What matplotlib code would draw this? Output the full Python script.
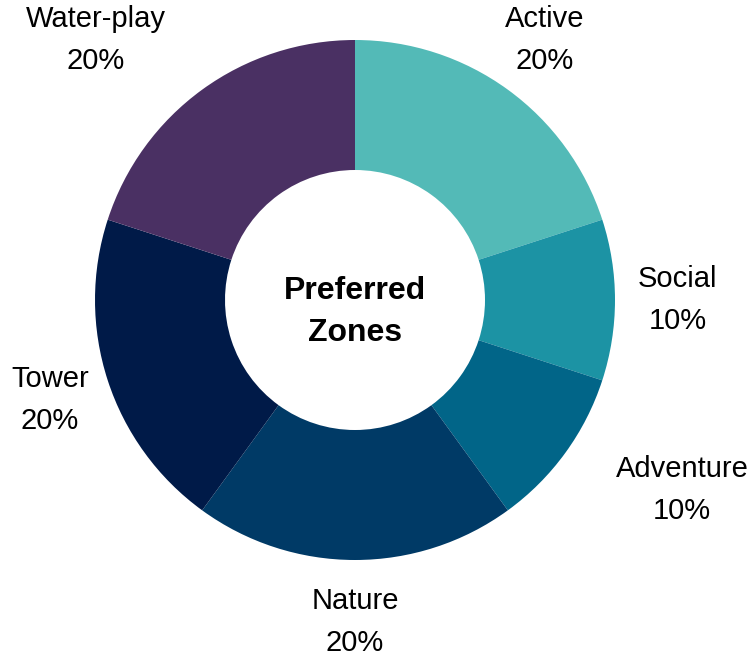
import matplotlib
matplotlib.use("Agg")
import matplotlib.pyplot as plt

categories = ["Active", "Social", "Adventure", "Nature", "Tower", "Water-play"]
values = [20, 10, 10, 20, 20, 20]
colors = ["#53BAB7", "#1C93A4", "#016588", "#003A66", "#001A48", "#4A3063"]
# label anchor positions (data units, pie radius = 1)
label_pos = [(0.731, 1.0), (1.242, 0.0), (1.258, -0.731), (0.0, -1.238),
             (-1.173, -0.385), (-0.996, 1.0)]

plt.rcParams['font.family'] = ['Liberation Sans', 'DejaVu Sans']

W, H = 752, 659
fig = plt.figure(figsize=(W / 100, H / 100), dpi=100)
ax = fig.add_axes([0, 0, 1, 1])
cx, cy, R = 355, 300, 260
ax.pie(values, colors=colors, startangle=90, counterclock=False, radius=1,
       wedgeprops=dict(width=0.5, edgecolor='none'))
ax.set_xlim(-cx / R, (W - cx) / R)
ax.set_ylim(-(H - cy) / R, cy / R)
ax.set_aspect('equal')
ax.axis('off')

total = sum(values)
for cat, v, (x, y) in zip(categories, values, label_pos):
    ax.text(x, y, f"{cat}\n{round(100 * v / total)}%", ha='center', va='center',
            fontsize=21, linespacing=1.62, color='black')

ax.text(0, -12 / R, "Preferred\nZones", ha='center', va='center', fontsize=23,
        fontweight='bold', linespacing=1.5)

fig.savefig("out.png", dpi=100, facecolor='white')
